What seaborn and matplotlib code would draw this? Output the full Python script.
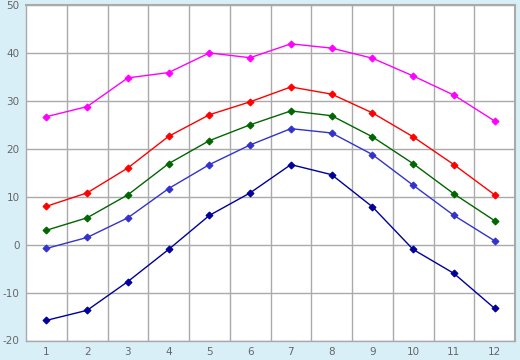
import matplotlib
matplotlib.use("Agg")
import matplotlib.pyplot as plt
import seaborn as sns
import pandas as pd
from matplotlib.ticker import MultipleLocator

months = list(range(1, 13))
s_magenta = [26.7, 28.8, 34.8, 35.9, 40.0, 39.0, 41.9, 41.0, 38.9, 35.2, 31.2, 25.8]
s_red = [8.0, 10.8, 16.0, 22.6, 27.1, 29.8, 32.9, 31.4, 27.5, 22.5, 16.7, 10.4]
s_green = [3.0, 5.6, 10.4, 16.9, 21.7, 25.0, 27.9, 26.9, 22.5, 16.9, 10.6, 5.0]
s_blue = [-0.8, 1.5, 5.6, 11.7, 16.7, 20.8, 24.2, 23.3, 18.8, 12.4, 6.1, 0.8]
s_navy = [-15.8, -13.7, -7.7, -1.0, 6.1, 10.8, 16.7, 14.6, 7.9, -1.0, -6.0, -13.3]

series = {"magenta": s_magenta, "red": s_red, "green": s_green, "blue": s_blue, "navy": s_navy}
colors = {"magenta": "#FF00FF", "red": "#FF0000", "green": "#006600", "blue": "#3333CC", "navy": "#000099"}

rows = []
for name, vals in series.items():
    for m, v in zip(months, vals):
        rows.append({"month": m, "value": v, "series": name})
df = pd.DataFrame(rows)

sns.set_style("white")
plt.rcParams['font.family'] = ['DejaVu Sans']
plt.rcParams['axes.unicode_minus'] = False

fig = plt.figure(figsize=(5.2, 3.6), dpi=100)
fig.patch.set_facecolor("#D9EFF7")
ax = fig.add_axes([26/520, 1 - 340.5/360, (515 - 26)/520, (340.5 - 5)/360])
ax.set_facecolor("white")

sns.lineplot(data=df, x="month", y="value", hue="series", palette=colors,
             marker="D", markersize=3.5, markeredgewidth=0.8, linewidth=1.0,
             legend=False, ax=ax, zorder=3)
for line in ax.lines:
    line.set_markeredgecolor(line.get_color())

ax.set_xlim(0.5, 12.5)
ax.set_ylim(-20, 50)
ax.set_xticks(months)
ax.set_xticks([m + 0.5 for m in months[:-1]], minor=True)
ax.yaxis.set_major_locator(MultipleLocator(10))
ax.grid(False)
ax.grid(True, which="minor", axis="x", color="#AAAAAA", linewidth=1.0)
ax.grid(True, which="major", axis="y", color="#AAAAAA", linewidth=1.0)
ax.tick_params(axis="x", which="minor", length=0)
ax.tick_params(axis="both", which="major", length=3, width=1, color="#999999",
               labelsize=7.5, labelcolor="#666666", pad=1.5)
for sp in ax.spines.values():
    sp.set_color("#AAAAAA")
    sp.set_linewidth(1.0)
ax.spines["top"].set_linewidth(1.5)
ax.spines["right"].set_linewidth(1.5)
ax.set_xlabel("")
ax.set_ylabel("")

fig.savefig("out.png", dpi=100, facecolor=fig.get_facecolor())
